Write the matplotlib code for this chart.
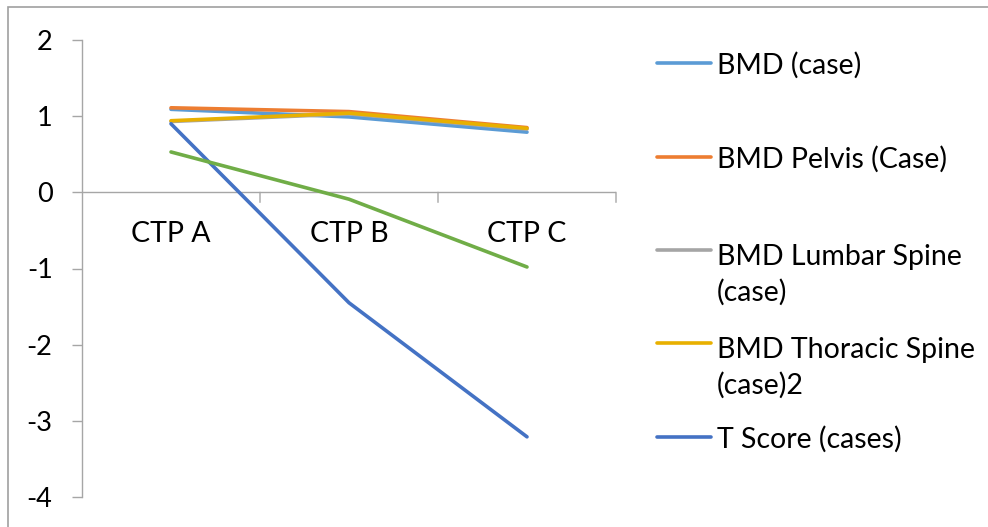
import matplotlib
matplotlib.use("Agg")
import matplotlib.pyplot as plt
from matplotlib.lines import Line2D
from matplotlib.patches import Rectangle

plt.rcParams['font.family'] = ['Lato', 'DejaVu Sans']
plt.rcParams['axes.unicode_minus'] = False

categories = ["CTP A", "CTP B", "CTP C"]
bmd_case = [1.09, 0.99, 0.79]
bmd_pelvis = [1.11, 1.06, 0.85]
bmd_lumbar = [0.93, 1.03, 0.83]
bmd_thoracic = [0.94, 1.04, 0.84]
t_score = [0.90, -1.45, -3.21]
extra_series = [0.53, -0.09, -0.98]

series = [
    ("BMD (case)", bmd_case, "#5B9BD5"),
    ("BMD Pelvis (Case)", bmd_pelvis, "#ED7D31"),
    ("BMD Lumbar Spine\n(case)", bmd_lumbar, "#A5A5A5"),
    ("BMD Thoracic Spine\n(case)2", bmd_thoracic, "#E8B000"),
    ("T Score (cases)", t_score, "#4472C4"),
]

W, H = 988, 527
FS = 20.5
LW = 2.6
axis_col = "#A6A6A6"

fig = plt.figure(figsize=(W / 100, H / 100), dpi=100)
ax = fig.add_axes([82 / W, 1 - 497 / H, (616 - 82) / W, (497 - 40) / H])

x = list(range(len(categories)))
for label, vals, col in series:
    ax.plot(x, vals, color=col, lw=LW, solid_capstyle="round")
ax.plot(x, extra_series, color="#70AD47", lw=LW, solid_capstyle="round")

ax.set_xlim(-0.5, len(categories) - 0.5)
ax.set_ylim(-4, 2)
ax.set_yticks(range(-4, 3))
ax.set_xticks([])

for s in ["top", "right", "bottom"]:
    ax.spines[s].set_visible(False)
ax.spines["left"].set_color(axis_col)
ax.spines["left"].set_linewidth(1.0)
ax.axhline(0, color=axis_col, lw=1.0, zorder=0.5)
ax.tick_params(axis="y", length=7.2, width=1, color=axis_col, labelsize=FS - 1, pad=14)

# category labels and tick marks hang from the zero line
for i, c in enumerate(categories):
    ax.annotate(c, xy=(i, 0), xycoords="data", xytext=(0, -42), textcoords="offset pixels",
                ha="center", va="center", fontsize=FS)
    ax.annotate("", xy=(i + 0.5, 0), xycoords="data", xytext=(0, -10),
                textcoords="offset pixels",
                arrowprops=dict(arrowstyle="-", color=axis_col, lw=1.0,
                                shrinkA=0, shrinkB=0))

# legend on the right, handle level with the first text line
ys = [63, 157, 250, 343, 437]
for (label, vals, col), yp in zip(series, ys):
    fy = 1 - yp / H
    fig.add_artist(Line2D([657 / W, 711 / W], [fy, fy], color=col, lw=LW,
                          solid_capstyle="round", transform=fig.transFigure))
    nlines = label.count("\n") + 1
    base = yp + 11 + 40 * (nlines - 1)
    fig.text(717 / W, 1 - base / H, label, ha="left", va="baseline", fontsize=FS,
             linespacing=1.4, transform=fig.transFigure)

# chart area border (partially cropped)
fig.add_artist(Rectangle((8 / W, -0.1), 1.2, 1 - 7 / H + 0.1, fill=False,
                         edgecolor="#A0A0A0", lw=1.2, transform=fig.transFigure))

fig.savefig("out.png", dpi=100)
